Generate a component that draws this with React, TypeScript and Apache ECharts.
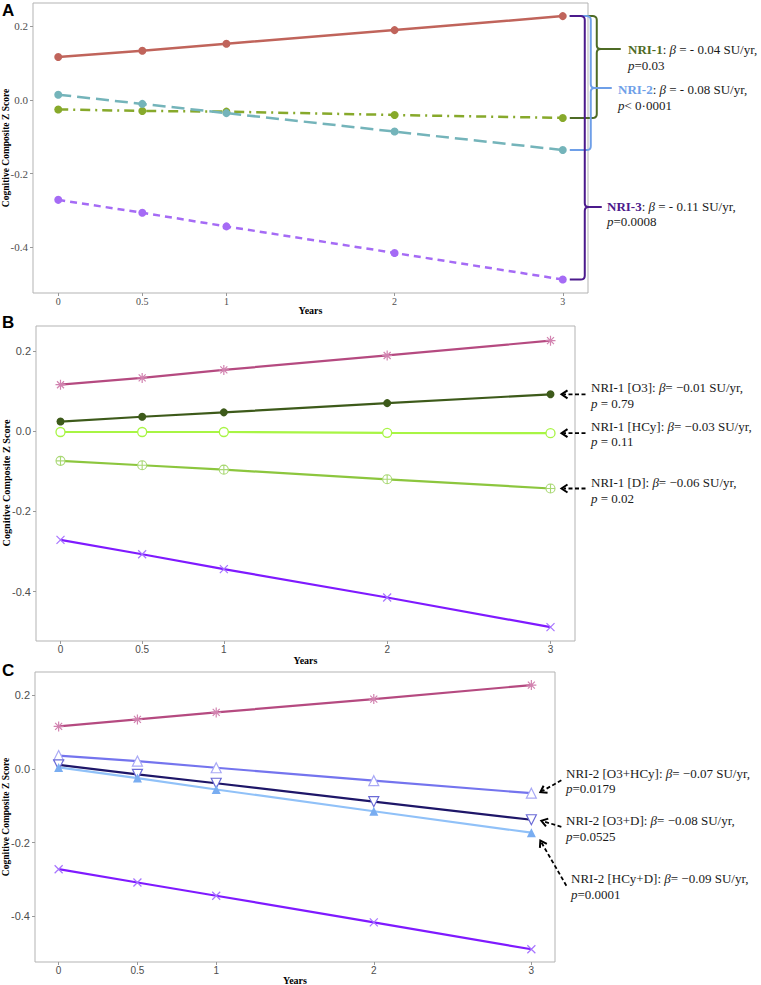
import React, { useEffect, useRef } from 'react';
import * as echarts from 'echarts';

// ---------- data ----------
const years = [0, 0.5, 1, 2, 3];
const xTicks = [0, 0.5, 1, 2, 3];
const yTicks = [-0.4, -0.2, 0, 0.2];

// Panel A
const aNRI0 = [0.116, 0.133, 0.152, 0.189, 0.227];
const aNRI1 = [-0.026, -0.030, -0.032, -0.041, -0.049];
const aNRI2 = [0.014, -0.011, -0.036, -0.086, -0.136];
const aNRI3 = [-0.271, -0.306, -0.343, -0.415, -0.487];

// Panel B
const bNRI0 = [0.116, 0.133, 0.153, 0.189, 0.226];
const bO3 = [0.024, 0.036, 0.047, 0.070, 0.092];
const bHCy = [-0.002, -0.002, -0.002, -0.004, -0.005];
const bD = [-0.074, -0.085, -0.096, -0.120, -0.143];
const bNRI3 = [-0.271, -0.307, -0.344, -0.415, -0.489];

// Panel C
const cNRI0 = [0.115, 0.134, 0.153, 0.189, 0.227];
const cO3HCy = [0.036, 0.021, 0.003, -0.032, -0.066];
const cO3D = [0.011, -0.015, -0.039, -0.089, -0.138];
const cHCyD = [0.004, -0.025, -0.056, -0.115, -0.173];
const cNRI3 = [-0.272, -0.308, -0.344, -0.416, -0.489];

const Y_MIN = -0.5235;
const Y_MAX = 0.2625;

// ---------- styling ----------
const SERIF = '"Liberation Serif", "Times New Roman", serif';
const SANS = '"Liberation Sans", Arial, sans-serif';

const SYM_AST = 'path://M5,0L5,10M0,5L10,5M1.5,1.5L8.5,8.5M8.5,1.5L1.5,8.5';
const SYM_X = 'path://M0,0L10,10M10,0L0,10';
const SYM_OCIRCLE = 'path://M10,5A5,5,0,1,1,0,5A5,5,0,1,1,10,5Z';
const SYM_PCIRCLE = 'path://M10,5A5,5,0,1,1,0,5A5,5,0,1,1,10,5ZM5,0L5,10M0,5L10,5';
const SYM_UTRI = 'path://M5,0L10,8.66L0,8.66Z';
const SYM_DTRI = 'path://M0,0L10,0L5,8.66Z';

function pts(vals: number[]) {
  return years.map((x, i) => [x, vals[i]]);
}

function line(gi: number, vals: number[], color: string, opt: any = {}) {
  return {
    type: 'line',
    xAxisIndex: gi,
    yAxisIndex: gi,
    data: pts(vals),
    symbol: opt.symbol ?? 'circle',
    symbolSize: opt.size ?? 8,
    lineStyle: { color, width: opt.width ?? 2.2, type: opt.dash ?? 'solid' },
    itemStyle: opt.item ?? { color },
    emphasis: { disabled: true },
    z: opt.z ?? 2,
  };
}

function stroked(color: string, fill = 'rgba(0,0,0,0)', w = 1.2) {
  return { color: fill, borderColor: color, borderWidth: w };
}

function xAxis(gi: number, font: string, size: number, gap: number) {
  return {
    type: 'value',
    gridIndex: gi,
    min: -0.15,
    max: 3.15,
    axisLine: { show: false, onZero: false },
    splitLine: { show: false },
    axisTick: { show: true, length: 3, lineStyle: { color: '#999' }, customValues: xTicks },
    axisLabel: {
      customValues: xTicks,
      color: '#4d4d4d',
      fontFamily: font,
      fontSize: size,
      margin: 3,
      formatter: (v: number) => String(v),
    },
    name: 'Years',
    nameLocation: 'middle',
    nameGap: gap,
    nameMoveOverlap: false,
    nameTextStyle: { fontFamily: SERIF, fontWeight: 'bold', fontSize: 10, color: '#000' },
  };
}

function yAxis(gi: number, font: string, size: number) {
  return {
    type: 'value',
    gridIndex: gi,
    min: Y_MIN,
    max: Y_MAX,
    axisLine: { show: false, onZero: false },
    splitLine: { show: false },
    axisTick: { show: true, length: 3, lineStyle: { color: '#999' }, customValues: yTicks },
    axisLabel: {
      customValues: yTicks,
      color: '#4d4d4d',
      fontFamily: font,
      fontSize: size,
      margin: 5,
      formatter: (v: number) => v.toFixed(1),
    },
  };
}

const grids = [
  { left: 33, top: 3, width: 555, height: 290 },
  { left: 36, top: 326, width: 539, height: 315 },
  { left: 35, top: 672, width: 520, height: 290 },
].map((g) => ({
  ...g,
  show: true,
  borderColor: '#b3b3b3',
  borderWidth: 1,
  backgroundColor: 'transparent',
  containLabel: false,
  outerBoundsMode: 'none',
}));

const COL = {
  aRed: '#c0645b',
  aGreen: '#87a92b',
  aTeal: '#74b4ba',
  aPurple: '#a56bf5',
  brGreen: '#4e6b25',
  brBlue: '#6e9fe8',
  brPurple: '#4b1a8c',
  pinkLine: '#b54a80',
  pinkMark: '#d283b0',
  dkGreen: '#3d5a1a',
  ltGreen: '#a8f544',
  midGreen: '#8cc63e',
  midGreenMark: '#a9d874',
  violet: '#7f1aff',
  violetMark: '#a774ff',
  periLine: '#7474ee',
  periMark: '#a9a9f6',
  navy: '#1e1668',
  navyMark: '#6a6ad6',
  skyLine: '#90c1f8',
  skyMark: '#79adf1',
};

const option: any = {
  animation: false,
  backgroundColor: '#ffffff',
  grid: grids,
  xAxis: [xAxis(0, SERIF, 10, 12), xAxis(1, SANS, 10, 14), xAxis(2, SANS, 10, 13)],
  yAxis: [yAxis(0, SERIF, 11), yAxis(1, SANS, 11), yAxis(2, SANS, 11)],
  series: [
    // Panel A
    line(0, aNRI0, COL.aRed, { width: 2.5 }),
    line(0, aNRI1, COL.aGreen, { width: 2.5, dash: [10, 5, 2, 5] }),
    line(0, aNRI2, COL.aTeal, { width: 2.5, dash: [13, 6] }),
    line(0, aNRI3, COL.aPurple, { width: 2.5, dash: [7, 5] }),
    // Panel B
    line(1, bNRI0, COL.pinkLine, { symbol: SYM_AST, size: 10, item: stroked(COL.pinkMark) }),
    line(1, bO3, COL.dkGreen, { symbol: 'circle', size: 8 }),
    line(1, bHCy, COL.ltGreen, { symbol: SYM_OCIRCLE, size: 9, item: stroked(COL.ltGreen, '#fff', 1.3) }),
    line(1, bD, COL.midGreen, { symbol: SYM_PCIRCLE, size: 9, item: stroked(COL.midGreenMark, '#fff', 1.1) }),
    line(1, bNRI3, COL.violet, { symbol: SYM_X, size: 8, item: stroked(COL.violetMark) }),
    // Panel C
    line(2, cNRI0, COL.pinkLine, { symbol: SYM_AST, size: 10, item: stroked(COL.pinkMark) }),
    line(2, cO3HCy, COL.periLine, { symbol: SYM_UTRI, size: 10, item: stroked(COL.periMark, '#fff', 1.2) }),
    line(2, cO3D, COL.navy, { symbol: SYM_DTRI, size: 10, item: stroked(COL.navyMark, '#fff', 1.2) }),
    line(2, cHCyD, COL.skyLine, { symbol: 'triangle', size: 9, item: { color: COL.skyMark } }),
    line(2, cNRI3, COL.violet, { symbol: SYM_X, size: 8, item: stroked(COL.violetMark) }),
  ],
};

// ---------- annotations ----------
const TXT = '#1a1a1a';
function rich(size: number, boldColor?: string) {
  return {
    n: { fontFamily: SERIF, fontSize: size, fill: TXT, color: TXT },
    i: { fontFamily: SERIF, fontSize: size, fontStyle: 'italic', fill: TXT, color: TXT },
    b: { fontFamily: SERIF, fontSize: size, fontWeight: 'bold', fill: boldColor, color: boldColor },
  };
}

function text(x: number, y: number, t: string, size: number, boldColor = TXT) {
  return {
    type: 'text',
    x,
    y,
    z: 10,
    style: {
      text: t,
      rich: rich(size, boldColor),
      fontFamily: SERIF,
      fontSize: size,
      fill: TXT,
      align: 'left',
      verticalAlign: 'middle',
    },
  };
}

function yTitle(y: number, size: number) {
  return {
    type: 'text',
    x: 6,
    y,
    rotation: Math.PI / 2,
    z: 10,
    style: {
      text: 'Cognitive Composite Z Score',
      fontFamily: SERIF,
      fontWeight: 'bold',
      fontSize: size,
      fill: '#000',
      align: 'center',
      verticalAlign: 'middle',
    },
  };
}

function quad(p0: number[], c: number[], p1: number[], n = 5) {
  const out: number[][] = [];
  for (let k = 1; k <= n; k++) {
    const t = k / n;
    const a = (1 - t) * (1 - t);
    const b = 2 * (1 - t) * t;
    const d = t * t;
    out.push([a * p0[0] + b * c[0] + d * p1[0], a * p0[1] + b * c[1] + d * p1[1]]);
  }
  return out;
}

function brace(xs: number, y1: number, y2: number, xv: number, yTip: number, xTip: number, color: string) {
  const r = 4;
  const p: number[][] = [[xs, y1], [xv - r, y1]];
  p.push(...quad([xv - r, y1], [xv, y1], [xv, y1 + r]));
  p.push([xv, yTip - r]);
  p.push(...quad([xv, yTip - r], [xv, yTip], [xv + r, yTip]));
  p.push([xTip, yTip]);
  p.push([xv + r, yTip]);
  p.push(...quad([xv + r, yTip], [xv, yTip], [xv, yTip + r]));
  p.push([xv, y2 - r]);
  p.push(...quad([xv, y2 - r], [xv, y2], [xv - r, y2]));
  p.push([xs, y2]);
  return {
    type: 'polyline',
    z: 5,
    shape: { points: p },
    style: { stroke: color, lineWidth: 2, fill: null },
  };
}

function arrow(tail: number[], tip: number[]) {
  const dx = tip[0] - tail[0];
  const dy = tip[1] - tail[1];
  const L = Math.sqrt(dx * dx + dy * dy);
  const ux = dx / L;
  const uy = dy / L;
  const hx = -uy;
  const hy = ux;
  const hl = 6;
  const hw = 4;
  const base = [tip[0] - ux * hl, tip[1] - uy * hl];
  return [
    {
      type: 'line',
      z: 6,
      shape: { x1: tail[0], y1: tail[1], x2: tip[0] - ux * 2, y2: tip[1] - uy * 2 },
      style: { stroke: '#000', lineWidth: 1.8, lineDash: [4, 2.5] },
    },
    {
      type: 'polyline',
      z: 6,
      shape: {
        points: [
          [base[0] + hx * hw, base[1] + hy * hw],
          [tip[0], tip[1]],
          [base[0] - hx * hw, base[1] - hy * hw],
        ],
      },
      style: { stroke: '#000', lineWidth: 2, fill: null },
    },
  ];
}

function buildGraphics(chart: any) {
  const px = (gi: number, x: number, y: number) => chart.convertToPixel({ gridIndex: gi }, [x, y]);
  const last = years.length - 1;
  const xl = years[last];
  const g: any[] = [];

  // panel letters
  const letter = (t: string, y: number) => ({
    type: 'text',
    x: 2,
    y,
    z: 10,
    style: { text: t, fontFamily: SANS, fontWeight: 'bold', fontSize: 17, fill: '#000' },
  });
  g.push(letter('A', 2), letter('B', 314), letter('C', 662));

  // y axis titles
  g.push(yTitle(148, 9.5), yTitle(483, 10.2), yTitle(817, 9.5));

  // Panel A braces
  const top = px(0, xl, aNRI0[last]);
  const p1 = px(0, xl, aNRI1[last]);
  const p2 = px(0, xl, aNRI2[last]);
  const p3 = px(0, xl, aNRI3[last]);
  const xs = top[0] + 7;
  g.push(brace(xs, top[1], p1[1], top[0] + 34, 49, top[0] + 58, COL.brGreen));
  g.push(brace(xs, top[1], p2[1], top[0] + 28, 88, top[0] + 49, COL.brBlue));
  g.push(brace(xs, top[1], p3[1], top[0] + 22, 207, top[0] + 39, COL.brPurple));

  g.push(text(628, 49, '{b|NRI-1}{n|: }{i|β}{n| = - 0.04 SU/yr,}', 13, COL.brGreen));
  g.push(text(628, 65, '{i|p}{n|=0.03}', 13));
  g.push(text(618, 89, '{b|NRI-2}{n|: }{i|β}{n| = - 0.08 SU/yr,}', 13, COL.brBlue));
  g.push(text(618, 105, '{i|p}{n|< 0·0001}', 13));
  g.push(text(607, 206, '{b|NRI-3}{n|: }{i|β}{n| = - 0.11 SU/yr,}', 13, COL.brPurple));
  g.push(text(607, 221, '{i|p}{n|=0.0008}', 13));

  // Panel B arrows + text
  const bo = px(1, xl, bO3[last]);
  const bh = px(1, xl, bHCy[last]);
  const bd = px(1, xl, bD[last]);
  [bo, bh, bd].forEach((p) => g.push(...arrow([p[0] + 35, p[1]], [p[0] + 11, p[1]])));
  g.push(text(591, 387, '{n|NRI-1 [O3]: }{i|β}{n|= −0.01 SU/yr,}', 13));
  g.push(text(591, 403, '{i|p}{n| = 0.79}', 13));
  g.push(text(591, 426, '{n|NRI-1 [HCy]: }{i|β}{n|= −0.03 SU/yr,}', 13));
  g.push(text(591, 441, '{i|p}{n| = 0.11}', 13));
  g.push(text(591, 482, '{n|NRI-1 [D]: }{i|β}{n|= −0.06 SU/yr,}', 13));
  g.push(text(591, 498, '{i|p}{n| = 0.02}', 13));

  // Panel C arrows + text
  const c1 = px(2, xl, cO3HCy[last]);
  const c2 = px(2, xl, cO3D[last]);
  const c3 = px(2, xl, cHCyD[last]);
  g.push(...arrow([c1[0] + 30, c1[1] - 13], [c1[0] + 9, c1[1] - 1]));
  g.push(...arrow([c2[0] + 30, c2[1] + 7], [c2[0] + 10, c2[1] + 1]));
  g.push(...arrow([c3[0] + 35, c3[1] + 53], [c3[0] + 9, c3[1] + 8]));
  g.push(text(566, 773, '{n|NRI-2 [O3+HCy]: }{i|β}{n|= −0.07 SU/yr,}', 13));
  g.push(text(566, 788, '{i|p}{n|=0.0179}', 13));
  g.push(text(566, 820, '{n|NRI-2 [O3+D]: }{i|β}{n|= −0.08 SU/yr,}', 13));
  g.push(text(566, 836, '{i|p}{n|=0.0525}', 13));
  g.push(text(571, 878, '{n|NRI-2 [HCy+D]: }{i|β}{n|= −0.09 SU/yr,}', 13));
  g.push(text(571, 894, '{i|p}{n|=0.0001}', 13));

  return g;
}

export default function App() {
  const ref = useRef<HTMLDivElement>(null);
  useEffect(() => {
    document.body.style.margin = '0';
    document.body.style.overflow = 'hidden';
    const chart = echarts.init(ref.current as HTMLDivElement, null, { renderer: 'svg' });
    chart.setOption(option);
    chart.setOption({ graphic: buildGraphics(chart) });
    return () => chart.dispose();
  }, []);
  return <div ref={ref} style={{ width: 761, height: 985 }} />;
}
